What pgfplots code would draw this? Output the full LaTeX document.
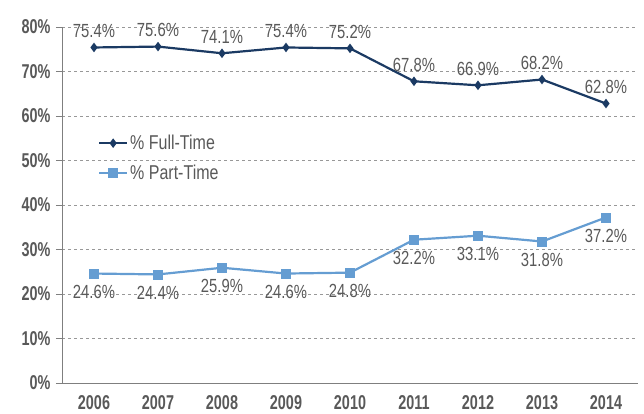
\documentclass[border=0pt]{standalone}
\usepackage{pgfplots}
\pgfplotsset{compat=1.18}
\usepackage{fontspec}
\setmainfont[FakeStretch=0.8]{Liberation Sans}
\newfontfamily\tickfont[FakeStretch=0.72]{Liberation Sans}
\newfontfamily\labfont[FakeStretch=0.78]{Liberation Sans}
\definecolor{ftc}{HTML}{1B3A63}
\definecolor{ptc}{HTML}{659DD2}
\definecolor{txt}{HTML}{595959}
\definecolor{axc}{HTML}{7F7F7F}
\begin{document}
\begin{tikzpicture}[x=1pt,y=1pt]
\useasboundingbox (0,0) rectangle (644,413);
\begin{axis}[at={(62pt,30pt)}, anchor=south west, scale only axis,
  width=576pt, height=356pt,
  xmin=-0.5, xmax=8.5, ymin=0, ymax=80,
  axis lines*=left,
  axis line style={axc, line width=1pt},
  xtick={0,...,8},
  xticklabels={2006,2007,2008,2009,2010,2011,2012,2013,2014},
  minor xtick={-0.5,0.5,...,8.5},
  x tick style={draw=none},
  minor x tick style={axc, line width=1pt},
  minor tick length=6pt,
  ytick={0,10,...,80},
  yticklabels={0\%,10\%,20\%,30\%,40\%,50\%,60\%,70\%,80\%},
  y tick style={axc, line width=1pt},
  major tick length=6pt,
  tick align=outside,
  ymajorgrids,
  grid style={dashed, axc!80, line width=0.8pt},
  tick label style={font=\fontsize{20}{20}\selectfont\tickfont\bfseries, txt},
  xticklabel style={yshift=-3pt},
  yticklabel style={xshift=-2pt},
  /pgf/number format/assume math mode=true,
  legend style={at={(0.057,0.708)}, anchor=north west, draw=none, fill=none,
    font=\fontsize{20}{20}\selectfont, text=txt, row sep=10pt},
  legend cell align=left,
  legend image code/.code={\draw[mark repeat=2,mark phase=2] plot coordinates {(0pt,0pt) (14pt,0pt) (28pt,0pt)};},
  clip=false,
]
\addplot[ftc, line width=2.2pt, mark=diamond*, mark size=3pt,
  nodes near coords, point meta=explicit symbolic,
  every node near coord/.style={font=\fontsize{19}{19}\selectfont\labfont, text=txt, anchor=south, yshift=5pt}]
  coordinates {(0,75.4)[75.4\%] (1,75.6)[75.6\%] (2,74.1)[74.1\%] (3,75.4)[75.4\%] (4,75.2)[75.2\%]
  (5,67.8)[67.8\%] (6,66.9)[66.9\%] (7,68.2)[68.2\%] (8,62.8)[62.8\%]};
\addlegendentry{\% Full-Time}
\addplot[ptc, line width=2.2pt, mark=square*, mark size=4.5pt, mark options={line width=0.5pt},
  nodes near coords, point meta=explicit symbolic,
  every node near coord/.style={font=\fontsize{19}{19}\selectfont\labfont, text=txt, anchor=north, yshift=-8pt}]
  coordinates {(0,24.6)[24.6\%] (1,24.4)[24.4\%] (2,25.9)[25.9\%] (3,24.6)[24.6\%] (4,24.8)[24.8\%]
  (5,32.2)[32.2\%] (6,33.1)[33.1\%] (7,31.8)[31.8\%] (8,37.2)[37.2\%]};
\addlegendentry{\% Part-Time}
\end{axis}
\end{tikzpicture}
\end{document}
